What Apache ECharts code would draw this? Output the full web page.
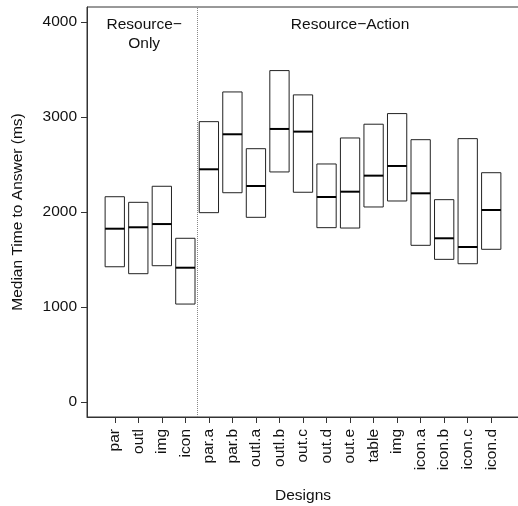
<!DOCTYPE html>
<html>
<head>
<meta charset="utf-8">
<script src="https://cdn.jsdelivr.net/npm/echarts@6/dist/echarts.min.js"></script>
<style>html,body{margin:0;padding:0;background:#fff}#c{width:518px;height:506px}</style>
</head>
<body>
<div id="c"></div>
<script>
const designs = ['par','outl','img','icon','par.a','par.b','outl.a','outl.b','out.c','out.d','out.e','table','img','icon.a','icon.b','icon.c','icon.d'];
const low    = [1423,1350,1434,1030,1993,2203,1944,2422,2208,1835,1831,2053,2116,1649,1501,1455,1607];
const median = [1824,1839,1873,1413,2450,2819,2274,2875,2847,2158,2214,2383,2485,2197,1723,1631,2021];
const high   = [2161,2102,2271,1723,2952,3265,2667,3490,3234,2506,2780,2925,3037,2762,2130,2773,2414];
const yTicks = [0,1000,2000,3000,4000];
const groupLabels = ['Resource\u2212\nOnly', 'Resource\u2212Action'];
const groupPos = [2.25, 11];
const groupY = 4000;
const separatorX = 4.5;

const FONT = 'Liberation Sans, Arial, Helvetica, sans-serif';
const FS = 15.5;
const xPositions = designs.map((d,i)=>i+1);
const boxData = designs.map((d,i)=>[i+1, low[i], median[i], high[i]]);

const chart = echarts.init(document.getElementById('c'), null, {renderer:'canvas'});
chart.setOption({
  animation:false,
  backgroundColor:'#fff',
  grid:{left:87, right:-1, top:7, bottom:89, show:true, borderColor:'#333', borderWidth:1, backgroundColor:'transparent',
        containLabel:false, outerBoundsMode:'none'},
  xAxis:{
    type:'value', min:-0.18, max:18.18,
    name:'Designs', nameLocation:'middle', nameGap:71,
    nameTextStyle:{fontFamily:FONT, fontSize:FS, color:'#111'},
    axisLine:{show:true, onZero:false, lineStyle:{color:'#333', width:1}},
    axisTick:{show:true, length:6, customValues:xPositions, lineStyle:{color:'#333'}},
    axisLabel:{show:true, rotate:90, margin:12, customValues:xPositions, fontFamily:FONT, fontSize:FS, color:'#111',
      formatter:(v)=>designs[Math.round(v)-1] || ''},
    splitLine:{show:false}
  },
  yAxis:{
    type:'value', min:-160, max:4160,
    name:'Median Time to Answer (ms)', nameLocation:'middle', nameGap:61, nameRotate:90,
    nameTextStyle:{fontFamily:FONT, fontSize:FS, color:'#111'},
    axisLine:{show:true, onZero:false, lineStyle:{color:'#333', width:1}},
    axisTick:{show:true, length:6, customValues:yTicks, lineStyle:{color:'#333'}},
    axisLabel:{show:true, margin:10, customValues:yTicks, fontFamily:FONT, fontSize:FS, color:'#111',
      formatter:(v)=>String(Math.round(v))},
    splitLine:{show:false}
  },
  series:[
    {
      type:'custom',
      data:boxData,
      renderItem:function(params, api){
        const x = api.value(0);
        const w = api.size([0.82, 0])[0];
        const pLow = api.coord([x, api.value(1)]);
        const pMid = api.coord([x, api.value(2)]);
        const pHigh = api.coord([x, api.value(3)]);
        return {
          type:'group',
          children:[
            {type:'rect', shape:{x:pHigh[0]-w/2, y:pHigh[1], width:w, height:pLow[1]-pHigh[1]},
             style:{fill:null, stroke:'#222', lineWidth:1}},
            {type:'line', shape:{x1:pMid[0]-w/2, y1:pMid[1], x2:pMid[0]+w/2, y2:pMid[1]},
             style:{stroke:'#000', lineWidth:2}}
          ]
        };
      },
      markLine:{
        silent:true, symbol:'none', label:{show:false},
        lineStyle:{type:'dotted', color:'#888', width:1},
        data:[{xAxis:separatorX}]
      },
      z:2
    },
    {
      type:'custom',
      data:groupLabels.map((t,i)=>[groupPos[i], groupY, t]),
      renderItem:function(params, api){
        const p = api.coord([api.value(0), api.value(1)]);
        return {
          type:'text',
          style:{x:p[0], y:p[1]-7, text:groupLabels[params.dataIndex], align:'center', verticalAlign:'top',
                 font:FS+'px '+FONT, lineHeight:19, fill:'#111'}
        };
      },
      z:3
    }
  ]
});
</script>
</body>
</html>
